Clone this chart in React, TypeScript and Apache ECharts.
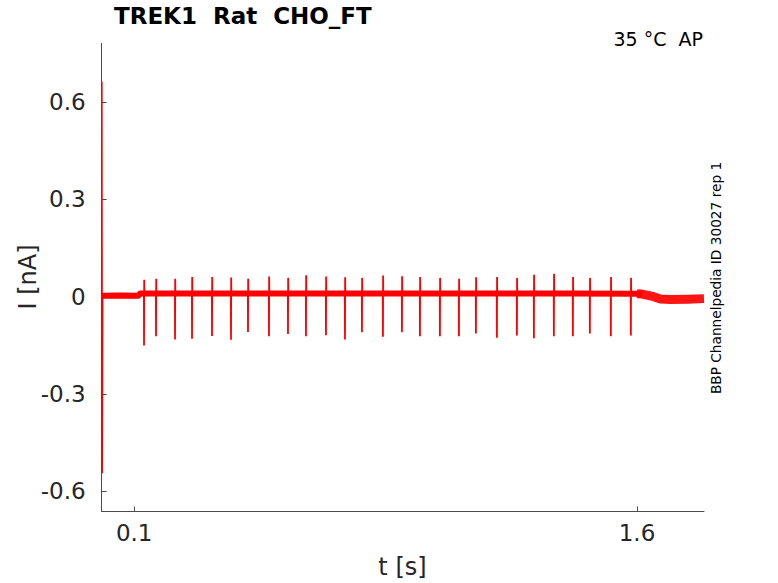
import React, { useEffect, useRef } from "react";
import * as echarts from "echarts";

// ---- data ----
const xTicks = [0.1, 1.6];
const yTicks = [-0.6, -0.3, 0, 0.3, 0.6];

// holding current baseline (thick noisy band)
const baseTimes = [0.003, 0.008, 0.06, 0.112, 0.118, 0.5, 1.0, 1.4, 1.6, 1.615];
const baseValues = [0.003, 0.003, 0.004, 0.003, 0.010, 0.010, 0.010, 0.010, 0.009, 0.008];

// end region, noisier band after the protocol
const endTimes = [1.6, 1.615, 1.63, 1.65, 1.67, 1.70, 1.75, 1.8];
const endValues = [0.009, 0.008, 0.005, 0.0, -0.007, -0.009, -0.008, -0.006];

// initial capacitive transient
const transTimes = [0.003, 0.0036, 0.0046, 0.006];
const transValues = [0.003, 0.664, -0.545, 0.003];

// AP-clamp spikes
const spikeTimes = [
  0.1289, 0.1647, 0.2214, 0.2721, 0.3317, 0.3884, 0.4391, 0.5017, 0.5584,
  0.6121, 0.6717, 0.7284, 0.7791, 0.8417, 0.8984, 0.9521, 1.0117, 1.0684,
  1.1191, 1.1817, 1.2414, 1.2921, 1.3517, 1.4084, 1.4591, 1.5217, 1.5814,
];
const spikeMins = [
  -0.151, -0.122, -0.132, -0.13, -0.121, -0.133, -0.109, -0.122, -0.115,
  -0.122, -0.119, -0.132, -0.11, -0.124, -0.11, -0.122, -0.122, -0.122,
  -0.114, -0.127, -0.12, -0.128, -0.122, -0.122, -0.114, -0.122, -0.12,
];
const spikeMaxs = [
  0.052, 0.055, 0.055, 0.061, 0.061, 0.059, 0.055, 0.062, 0.058, 0.066,
  0.062, 0.06, 0.058, 0.065, 0.063, 0.061, 0.058, 0.055, 0.06, 0.061, 0.058,
  0.068, 0.071, 0.061, 0.058, 0.061, 0.058,
];
const spikeBase = 0.01;

const FONT = "DejaVu Sans";
const RED = "#ff0000";
const TXT = "#262626";
const AX = "#4d4d4d";

export default function App() {
  const ref = useRef<HTMLDivElement>(null);
  useEffect(() => {
    if (!ref.current) return;
    const chart = echarts.init(ref.current, null, { renderer: "svg" });

    const base = baseTimes.map((t, i) => [t, baseValues[i]]);
    const end = endTimes.map((t, i) => [t, endValues[i]]);
    const trans = transTimes.map((t, i) => [t, transValues[i]]);
    const spikes: number[][] = [];
    spikeTimes.forEach((t, i) => {
      spikes.push([t, spikeBase]);
      spikes.push([t + 0.0004, spikeMins[i]]);
      spikes.push([t + 0.0009, spikeMaxs[i]]);
      spikes.push([t + 0.0015, spikeBase]);
    });

    const gl = 101.7, gt = 43.3, gr = 778 - 704, gb = 583 - 511.5;

    chart.setOption({
      animation: false,
      backgroundColor: "#ffffff",
      grid: {
        left: gl,
        top: gt,
        right: gr,
        bottom: gb,
        containLabel: false,
        outerBoundsMode: "none",
      },
      xAxis: {
        type: "value",
        min: 0.003,
        max: 1.8,
        axisLine: { show: true, onZero: false, lineStyle: { color: AX, width: 1 } },
        axisTick: {
          show: true,
          inside: true,
          length: 5,
          customValues: xTicks,
          lineStyle: { color: AX },
        },
        axisLabel: {
          customValues: xTicks,
          formatter: (v: number) => String(v),
          color: TXT,
          fontFamily: FONT,
          fontSize: 23,
          margin: 10,
        },
        splitLine: { show: false },
      },
      yAxis: {
        type: "value",
        min: -0.663,
        max: 0.782,
        axisLine: { show: true, onZero: false, lineStyle: { color: AX, width: 1 } },
        axisTick: {
          show: true,
          inside: true,
          length: 5,
          customValues: yTicks,
          lineStyle: { color: AX },
        },
        axisLabel: {
          customValues: yTicks,
          formatter: (v: number) => String(v),
          color: TXT,
          fontFamily: FONT,
          fontSize: 23,
          margin: 16,
        },
        splitLine: { show: false },
      },
      series: [
        {
          type: "line",
          data: base,
          showSymbol: false,
          lineStyle: { color: RED, width: 6, join: "round" },
          z: 2,
        },
        {
          type: "line",
          data: end,
          showSymbol: false,
          lineStyle: { color: RED, width: 9, join: "round", opacity: 0.92 },
          z: 2,
        },
        {
          type: "line",
          data: spikes,
          showSymbol: false,
          lineStyle: { color: RED, width: 1.8 },
          z: 3,
        },
        {
          type: "line",
          data: trans,
          showSymbol: false,
          lineStyle: { color: RED, width: 1.5 },
          z: 3,
        },
      ],
      graphic: [
        {
          type: "text",
          left: 114,
          top: 4,
          style: {
            text: "TREK1  Rat  CHO_FT",
            fontFamily: FONT,
            fontWeight: "bold",
            fontSize: 23,
            fill: "#000000",
          },
        },
        {
          type: "text",
          right: 75,
          top: 29,
          style: {
            text: "35 °C  AP",
            fontFamily: FONT,
            fontSize: 19,
            fill: "#000000",
          },
        },
        {
          type: "text",
          x: 715.5,
          y: 278,
          rotation: Math.PI / 2,
          style: {
            text: "BBP Channelpedia ID 30027 rep 1",
            fontFamily: FONT,
            fontSize: 13.7,
            fill: "#000000",
            align: "center",
            verticalAlign: "middle",
          },
        },
        {
          type: "text",
          x: 28,
          y: 277,
          rotation: Math.PI / 2,
          style: {
            text: "I [nA]",
            fontFamily: FONT,
            fontSize: 24,
            fill: TXT,
            align: "center",
            verticalAlign: "middle",
          },
        },
        {
          type: "text",
          x: 402.5,
          y: 567,
          style: {
            text: "t [s]",
            fontFamily: FONT,
            fontSize: 24,
            fill: TXT,
            align: "center",
            verticalAlign: "middle",
          },
        },
      ],
    });
    return () => chart.dispose();
  }, []);
  return (
    <div
      ref={ref}
      style={{ position: "fixed", left: 0, top: 0, width: 778, height: 583 }}
    />
  );
}
